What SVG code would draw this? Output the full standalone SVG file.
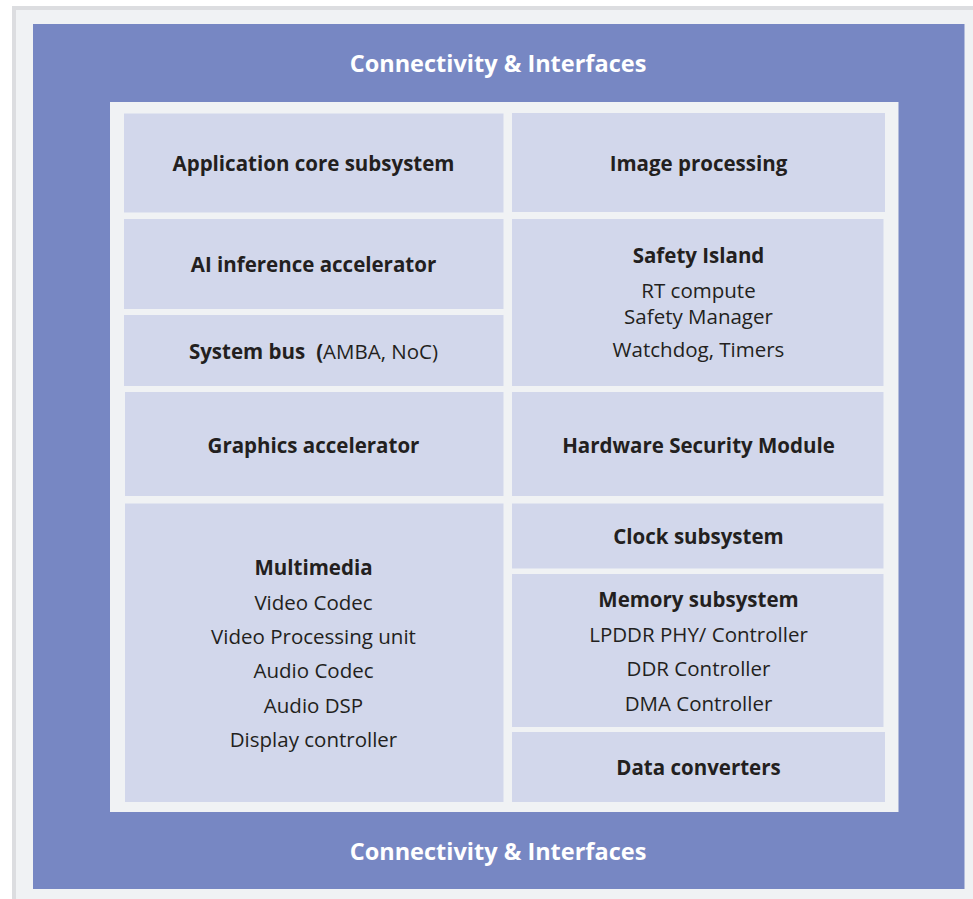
<svg xmlns="http://www.w3.org/2000/svg" width="973" height="899" viewBox="0 0 973 899">
<style>
.cell{fill:#d2d7eb}
.t{font-family:"Open Sans","Noto Sans","Liberation Sans",sans-serif;font-size:20.5px;fill:#231f20;text-anchor:middle}
.b{font-weight:700}
.h{font-family:"Open Sans","Noto Sans","Liberation Sans",sans-serif;font-size:23.5px;font-weight:700;fill:#ffffff;text-anchor:middle}
</style>
<rect x="0" y="0" width="973" height="899" fill="#ffffff"/>
<rect x="12" y="6" width="980" height="920" fill="#dcdde0"/>
<rect x="16" y="10" width="980" height="920" fill="#f0f2f4"/>
<g id="connectivity">
<rect x="33" y="24" width="931.5" height="865" fill="#7787c3"/>
<text class="h" x="498" y="72">Connectivity &amp; Interfaces</text>
<text class="h" x="498" y="860">Connectivity &amp; Interfaces</text>
</g>
<rect x="110" y="102" width="788.5" height="710" fill="#f0f2f4"/>
<g id="app-core">
<rect class="cell" x="124" y="113.5" width="379.5" height="99"/>
<text class="t b" x="313.5" y="171">Application core subsystem</text>
</g>
<g id="image-processing">
<rect class="cell" x="512" y="113" width="373" height="99"/>
<text class="t b" x="698.5" y="171">Image processing</text>
</g>
<g id="ai-accelerator">
<rect class="cell" x="124" y="219" width="379.5" height="90"/>
<text class="t b" x="313.5" y="271.5">AI inference accelerator</text>
</g>
<g id="system-bus">
<rect class="cell" x="124" y="315" width="379.5" height="71"/>
<text class="t" x="313.5" y="359"><tspan class="b">System bus</tspan><tspan class="b" dx="11">(</tspan>AMBA, NoC)</text>
</g>
<g id="safety-island">
<rect class="cell" x="512" y="219" width="371.5" height="167"/>
<text class="t b" x="698.5" y="262.5">Safety Island</text>
<text class="t" x="698.5" y="298">RT compute</text>
<text class="t" x="698.5" y="324">Safety Manager</text>
<text class="t" x="698.5" y="357">Watchdog, Timers</text>
</g>
<g id="graphics">
<rect class="cell" x="125" y="392" width="378.5" height="104"/>
<text class="t b" x="313.5" y="452.5">Graphics accelerator</text>
</g>
<g id="hsm">
<rect class="cell" x="512" y="392" width="371.5" height="104"/>
<text class="t b" x="698.5" y="452.5">Hardware Security Module</text>
</g>
<g id="multimedia">
<rect class="cell" x="125" y="503.5" width="378.5" height="298.5"/>
<text class="t b" x="313.5" y="575">Multimedia</text>
<text class="t" x="313.5" y="609.5">Video Codec</text>
<text class="t" x="313.5" y="643.5">Video Processing unit</text>
<text class="t" x="313.5" y="678">Audio Codec</text>
<text class="t" x="313.5" y="712.5">Audio DSP</text>
<text class="t" x="313.5" y="747">Display controller</text>
</g>
<g id="clock">
<rect class="cell" x="512" y="503.5" width="371.5" height="65"/>
<text class="t b" x="698.5" y="543.5">Clock subsystem</text>
</g>
<g id="memory">
<rect class="cell" x="512" y="574" width="371.5" height="153"/>
<text class="t b" x="698.5" y="607">Memory subsystem</text>
<text class="t" x="698.5" y="641.5">LPDDR PHY/ Controller</text>
<text class="t" x="698.5" y="676">DDR Controller</text>
<text class="t" x="698.5" y="710.5">DMA Controller</text>
</g>
<g id="data-converters">
<rect class="cell" x="512" y="732" width="373" height="70"/>
<text class="t b" x="698.5" y="775">Data converters</text>
</g>
</svg>
